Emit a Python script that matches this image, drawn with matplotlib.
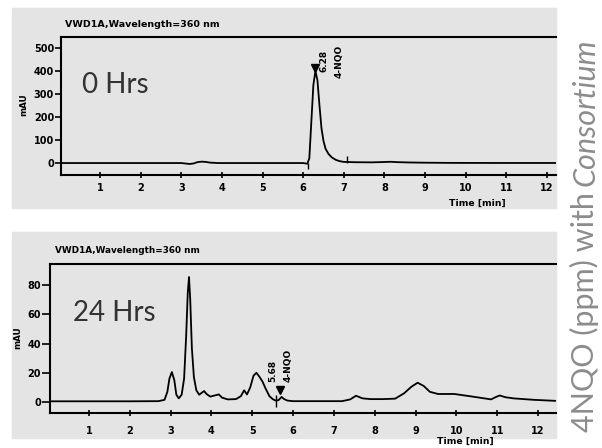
import matplotlib
matplotlib.use("Agg")
import matplotlib.pyplot as plt
from matplotlib.patches import Rectangle

W, H = 602, 448

# 0 hours trace (time in min, signal in mAU)
t_0h = [0.04, 1.0, 2.0, 3.0, 3.2, 3.3, 3.4, 3.5, 3.6, 3.7, 3.9, 5.0, 6.0, 6.1,
        6.15, 6.2, 6.25, 6.3, 6.35, 6.4, 6.45, 6.5, 6.55, 6.62, 6.7, 6.8, 6.9,
        7.0, 7.3, 7.7, 8.0, 8.15, 8.3, 8.6, 9.0, 9.5, 10.0, 11.0, 12.22]
mau_0h = [0, 0, 0, 0, -4, -2, 4, 6, 5, 2, 0, 0, 0, -3,
          20, 180, 340, 400, 360, 250, 150, 95, 62, 40, 25, 14, 8,
          5, 3.5, 3, 4.5, 5.5, 4, 2.5, 1.5, 0.8, 0.5, 0.3, 0.3]

# 24 hours trace
t_24h = [0.045, 1.0, 2.0, 2.7, 2.85, 2.92, 2.97, 3.03, 3.09, 3.14, 3.2, 3.27,
         3.33, 3.38, 3.42, 3.45, 3.48, 3.52, 3.57, 3.63, 3.7, 3.77, 3.82, 3.88,
         3.97, 4.08, 4.18, 4.26, 4.4, 4.6, 4.72, 4.8, 4.87, 4.95, 5.03, 5.1,
         5.17, 5.25, 5.33, 5.42, 5.5, 5.57, 5.64, 5.72, 5.78, 5.86, 6.0, 6.5,
         7.2, 7.4, 7.54, 7.7, 7.9, 8.2, 8.5, 8.72, 8.9, 9.05, 9.2, 9.35, 9.55,
         9.95, 10.4, 10.85, 10.95, 11.06, 11.2, 11.4, 11.9, 12.44]
mau_24h = [0.5, 0.5, 0.5, 0.6, 1.5, 7, 16, 20.5, 15, 5, 2.5, 5,
           16, 45, 75, 85.5, 70, 37, 17, 8, 5, 6.5, 7.5, 5.5,
           3.7, 4.5, 5.2, 3, 1.8, 2, 4, 8, 5.2, 10, 18, 20,
           17.5, 14, 9, 4, 2, 1, 1.2, 3.5, 2, 1, 0.6, 0.6,
           0.6, 1.8, 4.3, 2.5, 2, 2, 2.3, 6, 10.5, 13.2, 11, 7, 5.5,
           5.5, 3.7, 1.8, 3.2, 4.5, 3.3, 2.5, 1.5, 0.8]

x_ticks = list(range(1, 13))
y_ticks_0h = [0, 100, 200, 300, 400, 500]
y_ticks_24h = [0, 20, 40, 60, 80]

# peak marks: retention time, label, height of triangle
peak_0h = (6.28, "6.28", 415)
peak_24h = (5.68, "5.68", 8)
peak_name = "4-NQO"

title = "VWD1A,Wavelength=360 nm"
side_text = "4NQO (ppm) with"
side_italic = "Consortium"

fig = plt.figure(figsize=(W / 100, H / 100), dpi=100)
fig.patch.set_facecolor("white")

panel_bg = "#e4e4e4"
fig.add_artist(Rectangle((12 / W, 1 - 208 / H), 544 / W, 200 / H,
                         transform=fig.transFigure, color=panel_bg, zorder=-5))
fig.add_artist(Rectangle((12 / W, 1 - 438 / H), 544 / W, 206 / H,
                         transform=fig.transFigure, color=panel_bg, zorder=-5))

bold = dict(family="DejaVu Sans", fontweight="bold")


def style_axes(ax, xlim, ylim, yticks, xpad, ylen):
    ax.set_facecolor("none")
    ax.set_xlim(*xlim)
    ax.set_ylim(*ylim)
    ax.spines["right"].set_visible(False)
    for s in ["left", "bottom", "top"]:
        ax.spines[s].set_linewidth(1.5)
    ax.set_xticks(x_ticks)
    ax.set_yticks(yticks)
    ax.tick_params(axis="x", direction="inout", length=5, width=1.2, pad=xpad)
    ax.tick_params(axis="y", direction="out", length=ylen, width=1.2, pad=0.5)
    for lab in ax.get_xticklabels() + ax.get_yticklabels():
        lab.set_fontfamily("DejaVu Sans")
        lab.set_fontweight("bold")
        lab.set_fontsize(7)


# top panel: 0 hrs
ax1 = fig.add_axes([61 / W, 1 - 175 / H, 495 / W, 138 / H])
style_axes(ax1, (0.04, 12.22), (-52, 548), y_ticks_0h, 3.6, 4.5)
ax1.plot(t_0h, mau_0h, color="black", lw=1.3)
ax1.vlines([6.12], -25, 0, color="black", lw=1)
ax1.vlines([7.07], 0, 30, color="black", lw=1)
ax1.plot(peak_0h[0], peak_0h[2], marker="v", color="black", ms=6)
ax1.text(6.5, 395, peak_0h[1], rotation=90, ha="center", va="bottom",
         fontsize=6.5, **bold)
ax1.text(6.88, 368, peak_name, rotation=90, ha="center", va="bottom",
         fontsize=6.5, **bold)
ax1.text(0.008, 1.055, title, transform=ax1.transAxes, ha="left",
         va="bottom", fontsize=6.8, **bold)
ax1.text(82 / W, 1 - 85 / H, "0 Hrs", transform=fig.transFigure,
         family="Lato", fontsize=20, color="#333333", ha="left", va="center")
fig.text(24 / W, 1 - 105 / H, "mAU", rotation=90, ha="center", va="center",
         fontsize=6.3, **bold)
fig.text(477 / W, 1 - 203 / H, "Time [min]", ha="center", va="center",
         fontsize=6.7, **bold)

# bottom panel: 24 hrs
ax2 = fig.add_axes([50 / W, 1 - 413 / H, 506 / W, 149 / H])
style_axes(ax2, (0.045, 12.44), (-7.5, 94.4), y_ticks_24h, 6.5, 6)
ax2.plot(t_24h, mau_24h, color="black", lw=1.3)
ax2.vlines([5.57], -3.2, 4.8, color="black", lw=1)
ax2.plot(peak_24h[0], peak_24h[2], marker="v", color="black", ms=6)
ax2.text(5.51, 14, peak_24h[1], rotation=90, ha="center", va="bottom",
         fontsize=6.5, **bold)
ax2.text(5.88, 14, peak_name, rotation=90, ha="center", va="bottom",
         fontsize=6.5, **bold)
ax2.text(0.01, 1.06, title, transform=ax2.transAxes, ha="left",
         va="bottom", fontsize=6.4, **bold)
ax2.text(73 / W, 1 - 313 / H, "24 Hrs", transform=fig.transFigure,
         family="Lato", fontsize=20, color="#333333", ha="left", va="center")
fig.text(18 / W, 1 - 338 / H, "mAU", rotation=90, ha="center", va="center",
         fontsize=6.3, **bold)
fig.text(465 / W, 1 - 441 / H, "Time [min]", ha="center", va="center",
         fontsize=6.7, **bold)

# side caption, part of it italic
side_kw = dict(family="Lato", fontsize=22, color="#8c8c8c", rotation=90,
               rotation_mode="anchor", ha="left", va="baseline")
t_side = fig.text(594 / W, 1 - 432 / H, side_text, **side_kw)
fig.canvas.draw()
bb = t_side.get_window_extent(fig.canvas.get_renderer())
fig.text(594 / W, (bb.y1 + 6) / H, side_italic, style="italic", **side_kw)

fig.savefig("out.png", dpi=100)
